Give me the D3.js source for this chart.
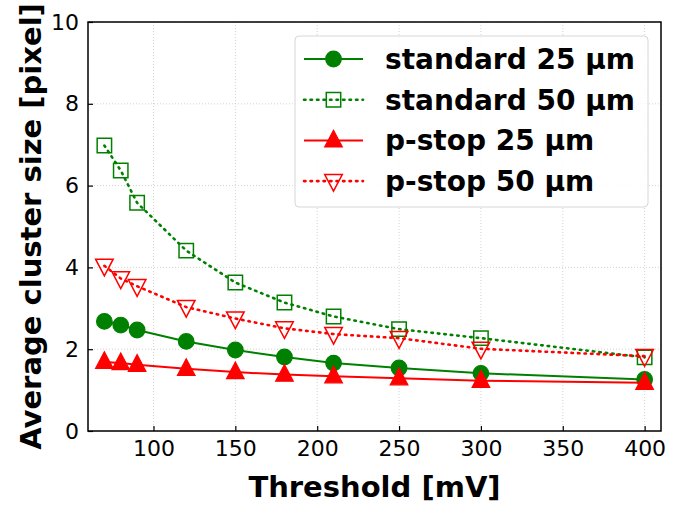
<!DOCTYPE html>
<html>
<head>
<meta charset="utf-8">
<script src="https://cdn.jsdelivr.net/npm/d3@7"></script>
<style>
body { margin: 0; background: #fff; }
svg { display: block; }
</style>
</head>
<body>
<svg id="chart" width="680" height="512"></svg>
<script>
const thresholds = [70, 80, 90, 120, 150, 180, 210, 250, 300, 400];
const standard25 = [2.68, 2.59, 2.47, 2.19, 1.98, 1.81, 1.66, 1.54, 1.41, 1.26];
const standard50 = [6.98, 6.37, 5.58, 4.41, 3.63, 3.14, 2.80, 2.49, 2.27, 1.80];
const pstop25 = [1.69, 1.66, 1.62, 1.52, 1.44, 1.38, 1.34, 1.29, 1.23, 1.18];
const pstop50 = [4.04, 3.73, 3.54, 3.03, 2.75, 2.51, 2.37, 2.27, 2.01, 1.83];
const seriesNames = ["standard 25 µm", "standard 50 µm", "p-stop 25 µm", "p-stop 50 µm"];
const xTicks = [100, 150, 200, 250, 300, 350, 400];
const yTicks = [0, 2, 4, 6, 8, 10];

const series = [
  {name: seriesNames[0], values: standard25, color: "green", dash: null, marker: "circle", filled: true},
  {name: seriesNames[1], values: standard50, color: "green", dash: "1.5,5", marker: "square", filled: false},
  {name: seriesNames[2], values: pstop25, color: "red", dash: null, marker: "triup", filled: true},
  {name: seriesNames[3], values: pstop50, color: "red", dash: "1.5,5", marker: "tridown", filled: false}
];

const svg = d3.select("#chart");
const L = 88, R = 661, T = 22, B = 431;
const x = d3.scaleLinear().domain([60, 410]).range([L, R]);
const y = d3.scaleLinear().domain([0, 10]).range([B, T]);

// grid
const grid = svg.append("g");
grid.selectAll(".gx").data(xTicks).join("line")
  .attr("x1", d => x(d)).attr("x2", d => x(d)).attr("y1", T).attr("y2", B)
  .attr("stroke", "#c8c8c8").attr("stroke-width", 0.8).attr("stroke-dasharray", "1,2");
grid.selectAll(".gy").data(yTicks).join("line")
  .attr("y1", d => y(d)).attr("y2", d => y(d)).attr("x1", L).attr("x2", R)
  .attr("stroke", "#c8c8c8").attr("stroke-width", 0.8).attr("stroke-dasharray", "1,2");

// axes
const xAxis = d3.axisBottom(x).tickValues(xTicks).tickSizeInner(-5).tickSizeOuter(0).tickPadding(9);
const yAxis = d3.axisLeft(y).tickValues(yTicks).tickSizeInner(-5).tickSizeOuter(0).tickPadding(9);
const gx = svg.append("g").attr("transform", `translate(0,${B})`).call(xAxis);
const gy = svg.append("g").attr("transform", `translate(${L},0)`).call(yAxis);
[gx, gy].forEach(g => {
  g.select(".domain").remove();
  g.selectAll("text").attr("font-family", "DejaVu Sans").attr("font-size", 22).attr("fill", "#000");
  g.selectAll("line").attr("stroke", "#000").attr("stroke-width", 1.2);
});

function markerPath(type, size) {
  const s = size;
  if (type === "square") return `M${-s},${-s}H${s}V${s}H${-s}Z`;
  if (type === "triup") return `M0,${-s * 1.15}L${s},${s * 0.75}L${-s},${s * 0.75}Z`;
  if (type === "tridown") return `M0,${s * 1.15}L${s},${-s * 0.75}L${-s},${-s * 0.75}Z`;
  return null;
}
function drawMarker(g, type, color, filled, cx, cy) {
  if (type === "circle") {
    g.append("circle").attr("cx", cx).attr("cy", cy).attr("r", 7.8)
      .attr("fill", filled ? color : "none").attr("stroke", color).attr("stroke-width", 1.2);
  } else {
    const sz = type === "square" ? 7.2 : 8.8;
    g.append("path").attr("d", markerPath(type, sz)).attr("transform", `translate(${cx},${cy})`)
      .attr("fill", filled ? color : "none").attr("stroke", color).attr("stroke-width", filled ? 1.2 : 1.5);
  }
}

const line = d3.line().x((d, i) => x(thresholds[i])).y(d => y(d)).curve(d3.curveLinear);
const plot = svg.append("g");
series.forEach(s => {
  plot.append("path").datum(s.values).attr("d", line)
    .attr("fill", "none").attr("stroke", s.color).attr("stroke-width", s.dash ? 2.6 : 2)
    .attr("stroke-dasharray", s.dash).attr("stroke-linecap", s.dash ? "round" : "butt");
  const mg = plot.append("g");
  s.values.forEach((v, i) => drawMarker(mg, s.marker, s.color, s.filled, x(thresholds[i]), y(v)));
});

// frame
svg.append("rect").attr("x", L).attr("y", T).attr("width", R - L).attr("height", B - T)
  .attr("fill", "none").attr("stroke", "#000").attr("stroke-width", 1.5);

// legend
const leg = svg.append("g");
leg.append("rect").attr("x", 295).attr("y", 36).attr("width", 353).attr("height", 171)
  .attr("rx", 4).attr("fill", "rgba(255,255,255,0.85)").attr("stroke", "#d6d6d6").attr("stroke-width", 1);
series.forEach((s, i) => {
  const ly = 59 + i * 40.7;
  leg.append("line").attr("x1", 304).attr("x2", 363).attr("y1", ly).attr("y2", ly)
    .attr("stroke", s.color).attr("stroke-width", s.dash ? 2.6 : 2).attr("stroke-dasharray", s.dash)
    .attr("stroke-linecap", s.dash ? "round" : "butt");
  drawMarker(leg, s.marker, s.color, s.filled, 333.5, ly);
  leg.append("text").attr("x", 385).attr("y", ly).attr("dy", "0.36em")
    .attr("font-family", "DejaVu Sans").attr("font-weight", "bold").attr("font-size", 28)
    .attr("fill", "#000").text(s.name);
});

// axis labels
svg.append("text").attr("x", (L + R) / 2).attr("y", 497).attr("text-anchor", "middle")
  .attr("font-family", "DejaVu Sans").attr("font-weight", "bold").attr("font-size", 29)
  .attr("fill", "#000").text("Threshold [mV]");
svg.append("text").attr("transform", `translate(41,${(T + B) / 2}) rotate(-90)`).attr("text-anchor", "middle")
  .attr("font-family", "DejaVu Sans").attr("font-weight", "bold").attr("font-size", 29)
  .attr("fill", "#000").text("Average cluster size [pixel]");
</script>
</body>
</html>
